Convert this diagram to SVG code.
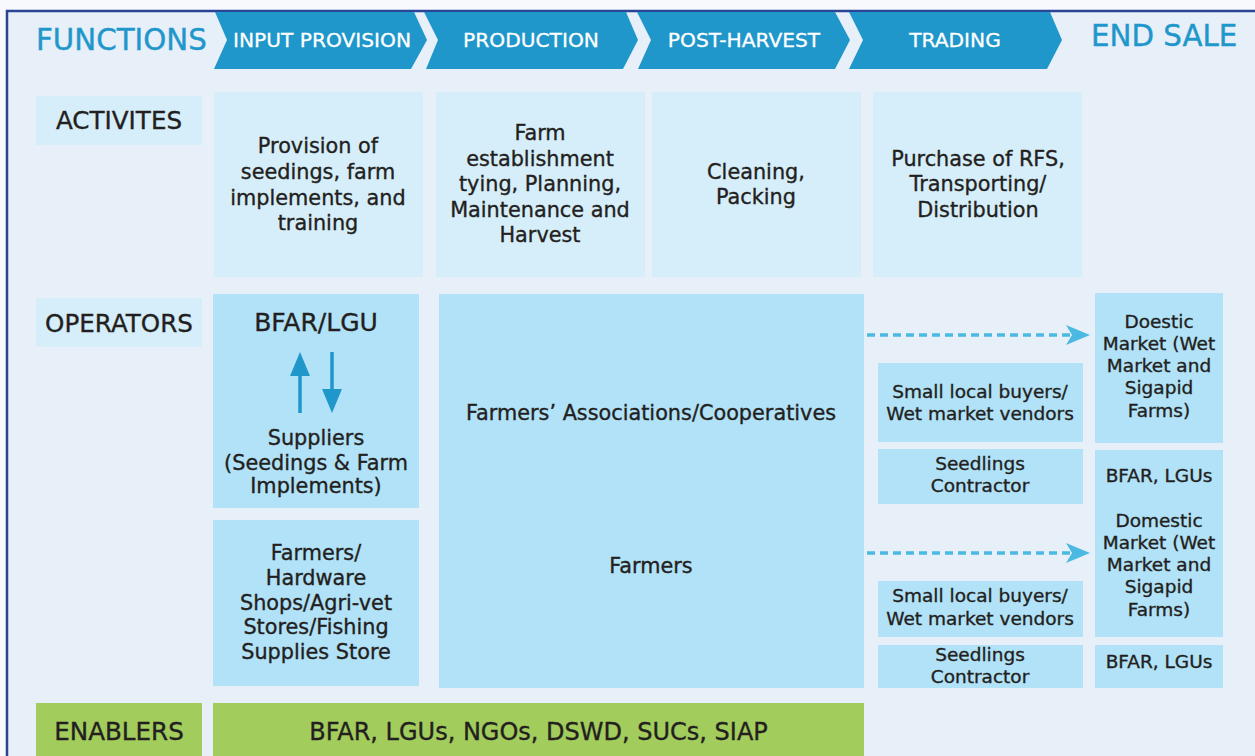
<svg xmlns="http://www.w3.org/2000/svg" width="1255" height="756" viewBox="0 0 1255 756">
<defs>
<style>
text{font-family:"DejaVu Sans","Liberation Sans",sans-serif;fill:#231f20;text-anchor:middle;stroke:#231f20;stroke-width:0.35}
.bg{fill:#e7eff9}
.act{fill:#d6eefa}
.op{fill:#b1e2f8}
.en{fill:#a2cc5b}
.chev{fill:#1f97cb}
.ht{fill:#ffffff;stroke:#ffffff;stroke-width:0.3;font-size:20.2px}
.title{fill:#1f97cb;stroke:#1f97cb;stroke-width:0.4;font-size:29.3px;text-anchor:start}
.lbl{font-size:24.6px}
.a{font-size:20.8px}
.o{font-size:20.8px}
.s{font-size:18.5px}
.dash{stroke:#4cb9e2;stroke-width:3.5;stroke-dasharray:8 5;fill:none}
.va{stroke:#1f97cb;stroke-width:3.5;fill:none}
</style>
<marker id="stealth" markerUnits="userSpaceOnUse" markerWidth="24" markerHeight="20" refX="6" refY="10" orient="auto">
<path d="M0,0 L24,10 L0,20 L6,10 Z" fill="#4cb9e2"/>
</marker>
<marker id="tri" markerUnits="userSpaceOnUse" markerWidth="24" markerHeight="20" refX="0" refY="10" orient="auto">
<path d="M0,0 L24,10 L0,20 Z" fill="#1f97cb"/>
</marker>
</defs>
<rect x="0" y="0" width="1255" height="756" fill="#f7f9fd"/>
<rect x="7" y="11" width="1250" height="750" class="bg"/>
<path d="M7,756 L7,11 L1255,11" stroke="#2b4596" stroke-width="2.5" fill="none"/>

<g id="functions-label"><text class="title" x="36" y="50">FUNCTIONS</text></g>
<g id="end-sale-label"><text class="title" x="1091" y="46">END SALE</text></g>

<g id="fn-input-provision">
<polygon class="chev" points="215,12 414,12 427,40 411,69 214,69 227,40"/>
<text class="ht" x="322" y="47">INPUT PROVISION</text>
</g>
<g id="fn-production">
<polygon class="chev" points="424,12 626,12 638,40 623,69 426,69 438,40"/>
<text class="ht" x="531" y="47">PRODUCTION</text>
</g>
<g id="fn-post-harvest">
<polygon class="chev" points="637,12 835,12 850,40 835,69 638,69 651,40"/>
<text class="ht" x="744" y="47">POST-HARVEST</text>
</g>
<g id="fn-trading">
<polygon class="chev" points="849,12 1050,12 1062,40 1047,69 849,69 863,40"/>
<text class="ht" x="955" y="47">TRADING</text>
</g>

<g id="row-activites">
<rect class="act" x="36" y="96" width="166" height="49"/>
<text class="lbl" x="119" y="129">ACTIVITES</text>
</g>
<g id="row-operators">
<rect class="act" x="36" y="298" width="166" height="49"/>
<text class="lbl" x="119" y="331.5">OPERATORS</text>
</g>
<g id="row-enablers">
<rect class="en" x="36" y="703" width="166" height="60"/>
<text class="lbl" x="119" y="739.5">ENABLERS</text>
</g>

<g id="act-input">
<rect class="act" x="214" y="92" width="209" height="185"/>
<text class="a" x="318" y="153">Provision of</text>
<text class="a" x="318" y="179">seedings, farm</text>
<text class="a" x="318" y="205">implements, and</text>
<text class="a" x="318" y="230">training</text>
</g>
<g id="act-production">
<rect class="act" x="436" y="92" width="209" height="185"/>
<text class="a" x="540" y="140">Farm</text>
<text class="a" x="540" y="166">establishment</text>
<text class="a" x="540" y="191">tying, Planning,</text>
<text class="a" x="540" y="217">Maintenance and</text>
<text class="a" x="540" y="242">Harvest</text>
</g>
<g id="act-post-harvest">
<rect class="act" x="652" y="92" width="209" height="185"/>
<text class="a" x="756" y="179">Cleaning,</text>
<text class="a" x="756" y="204">Packing</text>
</g>
<g id="act-trading">
<rect class="act" x="873" y="92" width="209" height="185"/>
<text class="a" x="978" y="166">Purchase of RFS,</text>
<text class="a" x="978" y="191">Transporting/</text>
<text class="a" x="978" y="217">Distribution</text>
</g>

<g id="op-bfar-suppliers">
<rect class="op" x="213" y="294" width="206" height="214"/>
<text x="316" y="331" style="font-size:25px">BFAR/LGU</text>
<text class="o" x="316" y="445">Suppliers</text>
<text class="o" x="316" y="470">(Seedings &amp; Farm</text>
<text class="o" x="316" y="493">Implements)</text>
</g>
<g id="op-shops">
<rect class="op" x="213" y="520" width="206" height="166"/>
<text class="o" x="316" y="560">Farmers/</text>
<text class="o" x="316" y="585">Hardware</text>
<text class="o" x="316" y="610">Shops/Agri-vet</text>
<text class="o" x="316" y="634">Stores/Fishing</text>
<text class="o" x="316" y="659">Supplies Store</text>
</g>
<g id="op-farmers">
<rect class="op" x="439" y="294" width="425" height="394"/>
<text class="o" x="651" y="420">Farmers’ Associations/Cooperatives</text>
<text class="o" x="651" y="573">Farmers</text>
</g>

<g id="tr-buyers-1">
<rect class="op" x="878" y="363" width="205" height="79"/>
<text class="s" x="980" y="398">Small local buyers/</text>
<text class="s" x="980" y="420">Wet market vendors</text>
</g>
<g id="tr-seedlings-1">
<rect class="op" x="878" y="449" width="205" height="55"/>
<text class="s" x="980" y="470">Seedlings</text>
<text class="s" x="980" y="492">Contractor</text>
</g>
<g id="tr-buyers-2">
<rect class="op" x="878" y="581" width="205" height="56"/>
<text class="s" x="980" y="602">Small local buyers/</text>
<text class="s" x="980" y="625">Wet market vendors</text>
</g>
<g id="tr-seedlings-2">
<rect class="op" x="878" y="645" width="205" height="43"/>
<text class="s" x="980" y="661">Seedlings</text>
<text class="s" x="980" y="683">Contractor</text>
</g>

<g id="es-doestic-market">
<rect class="op" x="1095" y="293" width="128" height="150"/>
<text class="s" x="1159" y="328">Doestic</text>
<text class="s" x="1159" y="350">Market (Wet</text>
<text class="s" x="1159" y="372">Market and</text>
<text class="s" x="1159" y="394">Sigapid</text>
<text class="s" x="1159" y="417">Farms)</text>
</g>
<g id="es-bfar-lgus-1">
<rect class="op" x="1095" y="450" width="128" height="41"/>
<text class="s" x="1159" y="482">BFAR, LGUs</text>
</g>
<g id="es-domestic-market">
<rect class="op" x="1095" y="490" width="128" height="147"/>
<text class="s" x="1159" y="527">Domestic</text>
<text class="s" x="1159" y="549">Market (Wet</text>
<text class="s" x="1159" y="571">Market and</text>
<text class="s" x="1159" y="593">Sigapid</text>
<text class="s" x="1159" y="616">Farms)</text>
</g>
<g id="es-bfar-lgus-2">
<rect class="op" x="1095" y="645" width="128" height="43"/>
<text class="s" x="1159" y="668">BFAR, LGUs</text>
</g>

<g id="en-bfar">
<rect class="en" x="213" y="703" width="651" height="60"/>
<text x="538.5" y="739.5" style="font-size:24px">BFAR, LGUs, NGOs, DSWD, SUCs, SIAP</text>
</g>

<g id="connectors">
<line class="dash" x1="867" y1="335" x2="1072" y2="335" marker-end="url(#stealth)"/>
<line class="dash" x1="867" y1="553" x2="1072" y2="553" marker-end="url(#stealth)"/>
<line class="va" x1="300" y1="413" x2="300" y2="376" marker-end="url(#tri)"/>
<line class="va" x1="332" y1="352" x2="332" y2="389" marker-end="url(#tri)"/>
</g>
</svg>
